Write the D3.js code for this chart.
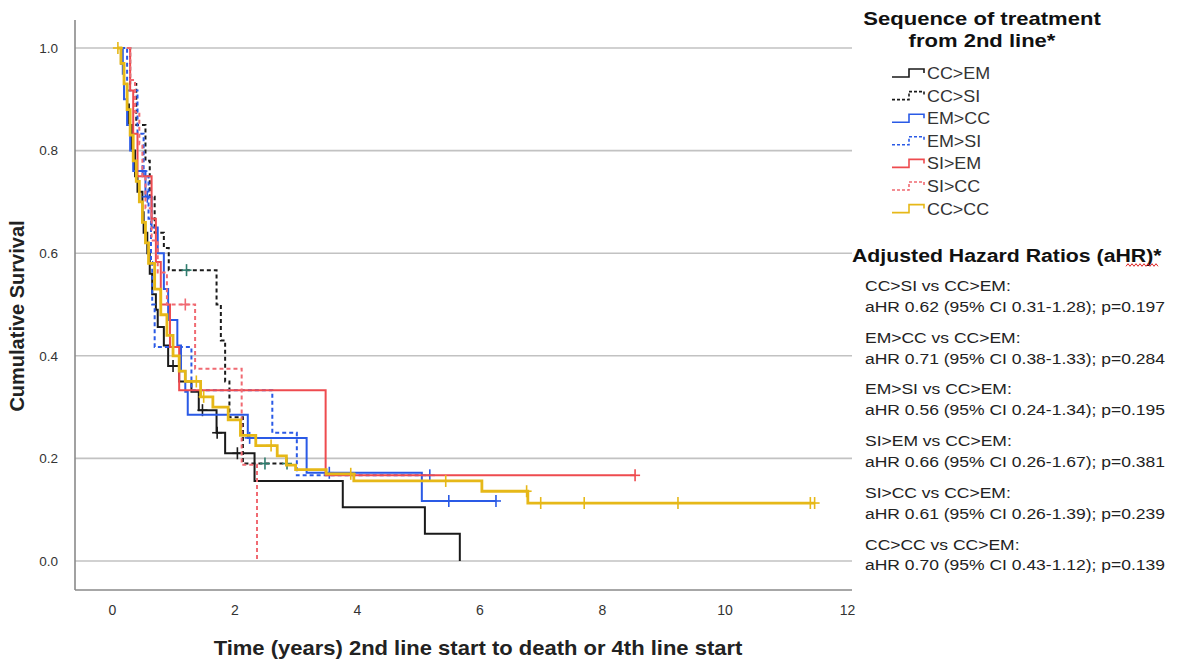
<!DOCTYPE html>
<html>
<head>
<meta charset="utf-8">
<script src="https://cdn.jsdelivr.net/npm/d3@7"></script>
<style>
  html, body { margin: 0; padding: 0; background: #fff; }
  svg { display: block; font-family: "Liberation Sans", Arial, sans-serif; }
</style>
</head>
<body>
<svg id="chart" width="1183" height="661"></svg>
<script>
// ---------- DATA ----------
const seriesNames = ["CC>EM", "CC>SI", "EM>CC", "EM>SI", "SI>EM", "SI>CC", "CC>CC"];

// step times (years) and survival after each step
const ccEmTimes  = [0.1, 0.15, 0.2, 0.25, 0.28, 0.33, 0.38, 0.42, 0.5, 0.52, 0.58, 0.62, 0.66, 0.72, 0.75, 0.85, 0.92, 1.1, 1.3, 1.42, 1.71, 1.85, 2.33, 3.77, 5.11, 5.68];
const ccEmSurv   = [1.0, 0.97, 0.93, 0.89, 0.85, 0.80, 0.75, 0.72, 0.68, 0.64, 0.60, 0.56, 0.52, 0.49, 0.456, 0.42, 0.38, 0.35, 0.33, 0.294, 0.25, 0.21, 0.156, 0.105, 0.053, 0.0];
const ccEmCensor = [1.0, 1.48, 1.72, 2.05];

const ccSiTimes  = [0.15, 0.3, 0.4, 0.55, 0.62, 0.7, 0.85, 0.93, 1.71, 1.78, 1.85, 1.92, 2.14];
const ccSiSurv   = [1.0, 0.93, 0.85, 0.78, 0.71, 0.64, 0.61, 0.567, 0.50, 0.43, 0.35, 0.28, 0.19];
const ccSiCensor = [1.22, 2.5, 2.86];

const emCcTimes  = [0.15, 0.18, 0.2, 0.25, 0.3, 0.35, 0.55, 0.65, 0.75, 0.85, 0.92, 1.07, 1.13, 1.2, 1.24, 2.22, 3.18, 5.06];
const emCcSurv   = [1.0, 0.95, 0.90, 0.85, 0.80, 0.76, 0.71, 0.65, 0.60, 0.53, 0.47, 0.42, 0.37, 0.33, 0.285, 0.24, 0.172, 0.117];
const emCcCensor = [0.5, 0.58, 2.25, 3.55, 5.5, 6.27];

const emSiTimes  = [0.15, 0.25, 0.42, 0.52, 0.6, 0.64, 0.66, 0.7, 1.3, 2.62, 3.02];
const emSiSurv   = [1.0, 0.917, 0.833, 0.75, 0.667, 0.583, 0.5, 0.417, 0.333, 0.25, 0.167];
const emSiCensor = [5.19];

const siEmTimes  = [0.25, 0.3, 0.35, 0.42, 0.65, 0.72, 0.8, 0.95, 1.1, 3.49];
const siEmSurv   = [1.0, 0.917, 0.833, 0.75, 0.667, 0.583, 0.5, 0.417, 0.333, 0.167];
const siEmCensor = [8.54];

const siCcTimes  = [0.25, 0.3, 0.38, 0.45, 0.5, 0.55, 0.65, 0.75, 0.9, 1.36, 2.12, 2.37];
const siCcSurv   = [1.0, 0.9375, 0.875, 0.8125, 0.75, 0.6875, 0.625, 0.5625, 0.5, 0.375, 0.1875, 0.0];
const siCcCensor = [1.2];

const ccCcTimes  = [0.1, 0.15, 0.2, 0.25, 0.3, 0.35, 0.4, 0.45, 0.5, 0.55, 0.6, 0.7, 0.8, 0.9, 1.0, 1.1, 1.2, 1.45, 1.65, 1.9, 2.1, 2.35, 2.7, 2.85, 3.0, 3.5, 3.95, 6.04, 6.79];
const ccCcSurv   = [1.0, 0.97, 0.93, 0.88, 0.83, 0.78, 0.74, 0.70, 0.66, 0.62, 0.58, 0.53, 0.48, 0.44, 0.40, 0.37, 0.35, 0.32, 0.30, 0.275, 0.245, 0.225, 0.205, 0.187, 0.178, 0.17, 0.156, 0.136, 0.113];
const ccCcCensor = [0.1, 1.38, 1.5, 2.6, 3.9, 5.45, 6.77, 7.0, 7.71, 9.24, 11.4, 11.47];

const xTicks = [0, 2, 4, 6, 8, 10, 12];
const yTicks = [0.0, 0.2, 0.4, 0.6, 0.8, 1.0];

const hrLabels = ["CC>SI vs CC>EM:", "EM>CC vs CC>EM:", "EM>SI vs CC>EM:", "SI>EM vs CC>EM:", "SI>CC vs CC>EM:", "CC>CC vs CC>EM:"];
const hrValues = ["aHR 0.62 (95% CI 0.31-1.28); p=0.197", "aHR 0.71 (95% CI 0.38-1.33); p=0.284", "aHR 0.56 (95% CI 0.24-1.34); p=0.195", "aHR 0.66 (95% CI 0.26-1.67); p=0.381", "aHR 0.61 (95% CI 0.26-1.39); p=0.239", "aHR 0.70 (95% CI 0.43-1.12); p=0.139"];

// ---------- STYLE ----------
const seriesStyle = [
  { color: "#1a1a1a", dash: null,  width: 2,   censor: "#1a1a1a" },
  { color: "#1a1a1a", dash: "4,3", width: 2,   censor: "#2e7d6e" },
  { color: "#2a5ae6", dash: null,  width: 2,   censor: "#2a5ae6" },
  { color: "#2a5ae6", dash: "4,3", width: 2,   censor: "#2a5ae6" },
  { color: "#ee4b4f", dash: null,  width: 2,   censor: "#ee4b4f" },
  { color: "#f06a72", dash: "4,3", width: 2,   censor: "#f06a72" },
  { color: "#e6b818", dash: null,  width: 2.8, censor: "#e6b818" }
];
const seriesData = [
  [ccEmTimes, ccEmSurv, ccEmCensor],
  [ccSiTimes, ccSiSurv, ccSiCensor],
  [emCcTimes, emCcSurv, emCcCensor],
  [emSiTimes, emSiSurv, emSiCensor],
  [siEmTimes, siEmSurv, siEmCensor],
  [siCcTimes, siCcSurv, siCcCensor],
  [ccCcTimes, ccCcSurv, ccCcCensor]
];

// ---------- HELPERS ----------
const svg = d3.select("#chart");
function addText(px, py, str, opts) {
  const o = Object.assign({ size: 15, weight: "normal", anchor: "start", sx: 1, fill: "#222" }, opts || {});
  return svg.append("text")
    .attr("transform", `translate(${px},${py}) scale(${o.sx},1)`)
    .attr("text-anchor", o.anchor).attr("font-size", o.size)
    .attr("font-weight", o.weight).attr("fill", o.fill).text(str);
}

// ---------- SCALES ----------
const x = d3.scaleLinear().domain([-0.6, 12.08]).range([75, 852]);
const y = d3.scaleLinear().domain([0, 1]).range([561, 48]);
const axisY = 590;

// gridlines
svg.append("g").selectAll("line").data(yTicks).join("line")
  .attr("x1", x(-0.6)).attr("x2", x(12.08))
  .attr("y1", d => y(d)).attr("y2", d => y(d))
  .attr("stroke", "#c2c2c2").attr("stroke-width", 1.6);

// axes lines
svg.append("line").attr("x1", 75).attr("x2", 75).attr("y1", 20).attr("y2", axisY)
  .attr("stroke", "#8a8a8a").attr("stroke-width", 1.6);
svg.append("line").attr("x1", 75).attr("x2", 852).attr("y1", axisY).attr("y2", axisY)
  .attr("stroke", "#8a8a8a").attr("stroke-width", 1.6);

// tick labels via d3 axes
const xAxis = d3.axisBottom(x).tickValues(xTicks).tickFormat(d3.format("d")).tickSize(0).tickPadding(15);
const gx = svg.append("g").attr("transform", `translate(0,${axisY})`).call(xAxis);
gx.select(".domain").remove();
gx.selectAll("text").attr("font-size", 14).attr("fill", "#333").attr("font-family", "Liberation Sans, Arial, sans-serif");

const yAxis = d3.axisLeft(y).tickValues(yTicks).tickFormat(d3.format(".1f")).tickSize(0).tickPadding(17);
const gy = svg.append("g").attr("transform", `translate(75,0)`).call(yAxis);
gy.select(".domain").remove();
gy.selectAll("text").attr("font-size", 13.5).attr("fill", "#333").attr("font-family", "Liberation Sans, Arial, sans-serif");

// axis titles
addText(478, 655, "Time (years) 2nd line start to death or 4th line start",
  { size: 20, weight: "bold", anchor: "middle", sx: 1.1, fill: "#222" });
svg.append("text").attr("transform", "translate(24,316) rotate(-90)").attr("text-anchor", "middle")
  .attr("font-size", 20).attr("font-weight", "bold").attr("fill", "#222")
  .text("Cumulative Survival");

// ---------- CURVES ----------
const line = d3.line().x(d => x(d[0])).y(d => y(d[1])).curve(d3.curveStepAfter);
function survAt(times, surv, t) {
  let s = surv[0];
  for (let i = 0; i < times.length; i++) if (times[i] <= t) s = surv[i];
  return s;
}
seriesData.forEach((sd, i) => {
  const [times, surv, cens] = sd;
  const pts = times.map((t, j) => [t, surv[j]]);
  const endT = d3.max([d3.max(times), d3.max(cens)]);
  if (endT > pts[pts.length - 1][0]) pts.push([endT, survAt(times, surv, endT)]);
  const st = seriesStyle[i];
  svg.append("path").datum(pts).attr("d", line)
    .attr("fill", "none").attr("stroke", st.color).attr("stroke-width", st.width)
    .attr("stroke-dasharray", st.dash);
  const g = svg.append("g");
  cens.forEach(t => {
    const cx = x(t), cy = y(survAt(times, surv, t));
    g.append("line").attr("x1", cx).attr("x2", cx).attr("y1", cy - 6).attr("y2", cy + 6)
      .attr("stroke", st.censor).attr("stroke-width", 1.6);
    g.append("line").attr("x1", cx - 5).attr("x2", cx + 5).attr("y1", cy).attr("y2", cy)
      .attr("stroke", st.censor).attr("stroke-width", 1.6);
  });
});

// ---------- LEGEND ----------
addText(982, 25, "Sequence of treatment", { size: 19, weight: "bold", anchor: "middle", sx: 1.16, fill: "#111" });
addText(982, 47, "from 2nd line*", { size: 19, weight: "bold", anchor: "middle", sx: 1.16, fill: "#111" });

const legY0 = 73, legStep = 22.6;
seriesNames.forEach((name, i) => {
  const st = seriesStyle[i];
  const yy = legY0 + i * legStep;
  svg.append("path")
    .attr("d", `M892,${yy + 4} H909 V${yy - 4} H924 V${yy}`)
    .attr("fill", "none").attr("stroke", st.color).attr("stroke-width", 1.6)
    .attr("stroke-dasharray", st.dash ? "3,2" : null);
  addText(927, yy + 6, name, { size: 16, sx: 1.12, fill: "#333" });
});

// ---------- HAZARD RATIOS ----------
addText(852, 262, "Adjusted Hazard Ratios (aHR)*", { size: 19, weight: "bold", sx: 1.12, fill: "#111" });
// spell-check squiggle under "aHR"
const squig = d3.range(0, 34, 2).map((d, k) => [1126 + d, 265 + (k % 2 ? -1.3 : 1.3)]);
svg.append("path").attr("d", d3.line()(squig)).attr("fill", "none")
  .attr("stroke", "#d22").attr("stroke-width", 1);

hrLabels.forEach((lab, i) => {
  const yy = 291 + i * 51.7;
  addText(865, yy, lab, { size: 15.5, sx: 1.13, fill: "#222" });
  addText(865, yy + 20.8, hrValues[i], { size: 15.5, sx: 1.13, fill: "#222" });
});
</script>
</body>
</html>
